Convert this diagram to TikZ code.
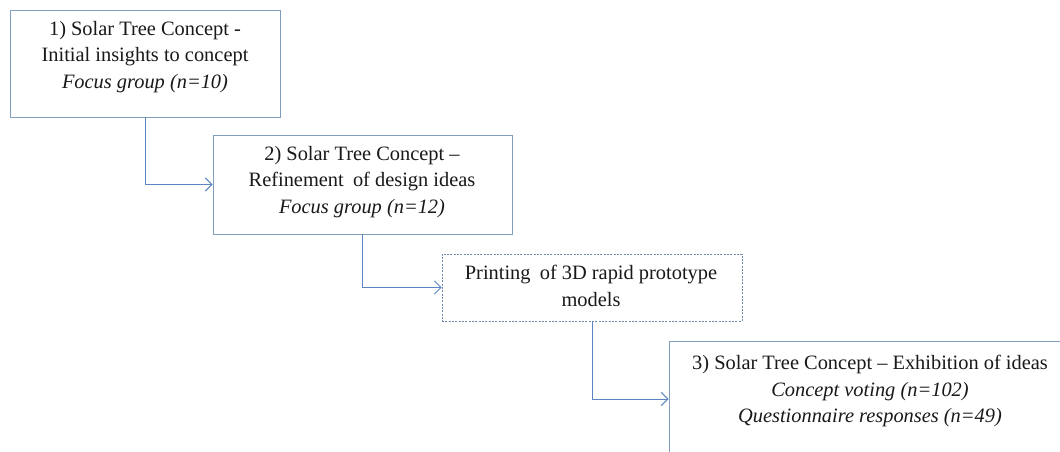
\documentclass[tikz,border=0pt]{standalone}
\usepackage{fontspec}
\setmainfont{Liberation Serif}
\usetikzlibrary{arrows.meta}
\definecolor{boxline}{RGB}{130,158,190}
\definecolor{conn}{RGB}{90,135,195}
\definecolor{dashline}{RGB}{110,140,175}
\tikzset{
  x=0.75pt, y=-0.75pt,
  stagebox/.style={draw=boxline, line width=0.7pt, fill=white, rectangle, inner sep=0pt},
  dashbox/.style={draw=dashline, line width=0.6pt, dash pattern=on 1.5pt off 1pt, fill=white, rectangle, inner sep=0pt},
  label/.style={align=center, inner sep=0pt, font=\fontsize{15.3}{20}\selectfont, text=black!90},
  connector/.style={draw=conn, line width=0.7pt, -{Straight Barb[length=5pt,width=10pt,line width=0.7pt]}}
}
\begin{document}
\begin{tikzpicture}
\clip (0,0) rectangle (1060,452);
\useasboundingbox (0,0) rectangle (1060,452);
\fill[white] (0,0) rectangle (1060,452);
\node[stagebox, minimum width=202.5pt, minimum height=80.25pt] (b1) at (145,63.5) {};
\node[stagebox, minimum width=224.25pt, minimum height=74.25pt] (b2) at (362.5,184.5) {};
\node[dashbox, minimum width=225pt, minimum height=50.25pt] (b3) at (592,287.5) {};
\node[stagebox, minimum width=304.5pt, minimum height=87pt] (b4) at (872,399) {};
\node[label] (t1) at (145,57) {1) Solar Tree Concept -\\Initial insights to concept\\\textit{Focus group (n=10)}};
\node[label] (t2) at (362,182) {2) Solar Tree Concept --\\Refinement\hspace{0.45em}of design ideas\\\textit{Focus group (n=12)}};
\node[label] (t3) at (591,286) {Printing\hspace{0.45em}of 3D rapid prototype\\models};
\node[label] (t4) at (870,391) {3) Solar Tree Concept -- Exhibition of ideas\\\textit{Concept voting (n=102)}\\\textit{Questionnaire responses (n=49)}};
\draw[connector] (b1.south) |- (b2.west);
\draw[connector] (b2.south) |- (b3.west);
\draw[connector] (b3.south) |- (b4.west);
\end{tikzpicture}
\end{document}
